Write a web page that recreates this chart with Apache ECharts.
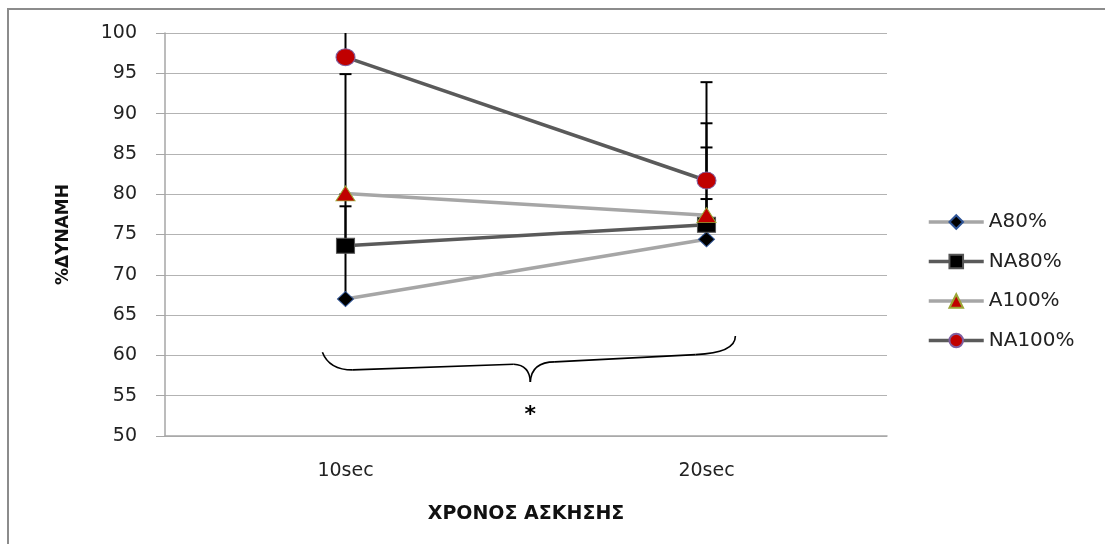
<!DOCTYPE html>
<html><head><meta charset="utf-8">
<script src="https://cdn.jsdelivr.net/npm/echarts@6/dist/echarts.min.js"></script>
<style>html,body{margin:0;padding:0;background:#fff}#c{width:1105px;height:544px}</style>
</head><body><div id="c"></div>
<script>
const categories = ['10sec', '20sec'];
const seriesNames = ['A80%', 'NA80%', 'A100%', 'NA100%'];
const A80 = [67.0, 74.4];
const NA80 = [73.6, 76.2];
const A100 = [80.1, 77.4];
const NA100 = [97.0, 81.7];
// upper ends of the error bars
const A80_err = [80.0, 85.8];
const NA80_err = [78.5, 79.4];
const A100_err = [94.9, 88.8];
const NA100_err = [104.0, 93.9];
const yMin = 50, yMax = 100, yStep = 5;
const xTitle = 'ΧΡΟΝΟΣ ΑΣΚΗΣΗΣ';
const yTitle = '%ΔΥΝΑΜΗ';
const sigMark = '*';

const values = [A80, NA80, A100, NA100];
const errs = [A80_err, NA80_err, A100_err, NA100_err];

const errData = [];
values.forEach((v, s) => v.forEach((val, i) => errData.push([i, val, errs[s][i]])));

const lightLine = '#A6A6A6', darkLine = '#5A5A5A';
const font = 'DejaVu Sans';

const chart = echarts.init(document.getElementById('c'));

function lineSeries(name, data, color, symbol, size, fill, border) {
  return {
    name, type: 'line', data, symbol, symbolSize: size, z: 3,
    lineStyle: { color, width: 3.5 },
    itemStyle: { color: fill, borderColor: border, borderWidth: 1 },
    emphasis: { disabled: true }
  };
}

const option = {
  animation: false,
  backgroundColor: '#fff',
  grid: { left: 165, right: 218, top: 33, bottom: 108 },
  legend: {
    orient: 'vertical', left: 927, top: 212, padding: 0,
    itemWidth: 55, itemHeight: 17, itemGap: 19.5,
    lineStyle: { width: 3.5 },
    textStyle: { fontFamily: font, fontSize: 20, color: '#222' },
    data: seriesNames
  },
  xAxis: {
    type: 'category', data: categories, boundaryGap: true,
    axisLine: { show: true, lineStyle: { color: '#A6A6A6', width: 1.5 } },
    axisTick: { show: false },
    axisLabel: { fontFamily: font, fontSize: 19, color: '#222', margin: 26 },
    name: xTitle, nameLocation: 'middle', nameGap: 69,
    nameTextStyle: { fontFamily: font, fontSize: 19, fontWeight: 'bold', color: '#111' }
  },
  yAxis: {
    type: 'value', min: yMin, max: yMax, interval: yStep,
    axisLine: { show: true, lineStyle: { color: '#A6A6A6', width: 1.5 } },
    axisTick: { show: true, inside: false, length: 9, lineStyle: { color: '#A6A6A6' } },
    splitLine: { show: true, lineStyle: { color: '#B3B3B3', width: 1 } },
    axisLabel: { fontFamily: font, fontSize: 19, color: '#222', margin: 28 },
    name: yTitle, nameLocation: 'middle', nameGap: 93, nameRotate: 90,
    nameTextStyle: { fontFamily: font, fontSize: 17, fontWeight: 'bold', color: '#111' }
  },
  series: [
    {
      type: 'custom', name: 'err', z: 2, silent: true,
      data: errData,
      renderItem: function (params, api) {
        const x = api.value(0);
        const lo = api.coord([x, api.value(1)]);
        const hiVal = api.value(2);
        const top = api.coord([x, yMax])[1];
        const hi = api.coord([x, hiVal]);
        const yTop = Math.max(hi[1], top);
        const children = [{
          type: 'line', shape: { x1: lo[0], y1: lo[1], x2: lo[0], y2: yTop },
          style: { stroke: '#000', lineWidth: 2 }
        }];
        if (hiVal <= yMax) {
          children.push({
            type: 'line', shape: { x1: lo[0] - 6, y1: hi[1], x2: lo[0] + 6, y2: hi[1] },
            style: { stroke: '#000', lineWidth: 2 }
          });
        }
        return { type: 'group', children };
      }
    },
    lineSeries('A80%', A80, lightLine, 'diamond', [16, 15], '#000', '#2F5597'),
    lineSeries('NA80%', NA80, darkLine, 'rect', [18, 15], '#000', '#555'),
    lineSeries('A100%', A100, lightLine, 'triangle', [19, 15], '#C00000', '#9BA535'),
    lineSeries('NA100%', NA100, darkLine, 'circle', [19, 17], '#C00000', '#7F5FA0')
  ]
};
chart.setOption(option);

// annotation brace & significance mark placed through the chart's own scales
const P = (x, v) => chart.convertToPixel({ gridIndex: 0 }, [x, v]);
const c0 = P(0, yMin)[0], c1 = P(1, yMin)[0], d = c1 - c0;
const yv = v => P(0, v)[1];
const X = f => c0 + f * d;
const pts = {
  a: [X(-0.064), yv(60.4)], acp: [X(-0.045), yv(58.2)], b: [X(0.02), yv(58.2)],
  c: [X(0.466), yv(58.9)], ccp: [X(0.51), yv(58.8)], tip: [X(0.512), yv(56.7)],
  dcp: [X(0.515), yv(59.2)], e: [X(0.58), yv(59.2)],
  f: [X(0.97), yv(60.1)], fcp: [X(1.08), yv(60.3)], g: [X(1.08), yv(62.4)]
};
const st = { stroke: '#000', lineWidth: 1.6, fill: null };
const bz = (p1, cp, p2) => ({ type: 'bezierCurve', shape: { x1: p1[0], y1: p1[1], cpx1: cp[0], cpy1: cp[1], x2: p2[0], y2: p2[1] }, style: st, silent: true });
const ln = (p1, p2) => ({ type: 'line', shape: { x1: p1[0], y1: p1[1], x2: p2[0], y2: p2[1] }, style: st, silent: true });
const star = P(0.512, 52.6);
chart.setOption({
  graphic: [
    { type: 'rect', z: 0, silent: true, shape: { x: 8, y: 9, width: 1200, height: 700 }, style: { stroke: '#8C8C8C', lineWidth: 2, fill: null } },
    bz(pts.a, pts.acp, pts.b),
    ln(pts.b, pts.c),
    bz(pts.c, pts.ccp, pts.tip),
    bz(pts.tip, pts.dcp, pts.e),
    ln(pts.e, pts.f),
    bz(pts.f, pts.fcp, pts.g),
    { type: 'text', x: X(0.512), y: star[1], silent: true, style: { text: sigMark, font: 'bold 22px DejaVu Sans', fill: '#000', align: 'center', verticalAlign: 'middle' } }
  ]
});
</script></body></html>
